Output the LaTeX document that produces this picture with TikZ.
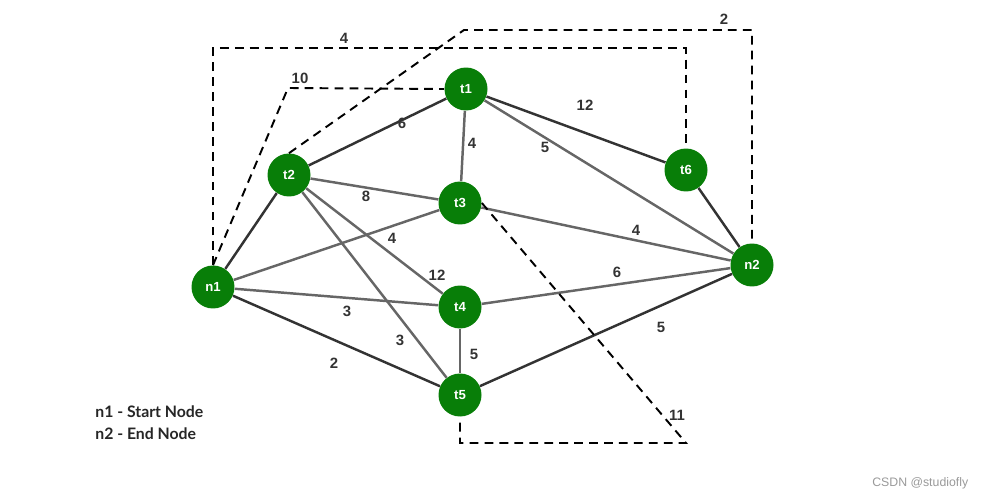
\documentclass[tikz,border=0pt]{standalone}
\usepackage{fontspec}
\setmainfont{Liberation Sans}
\newfontfamily\legendfont{Lato}
\definecolor{nodegreen}{RGB}{8,126,8}
\definecolor{darkedge}{RGB}{51,51,51}
\definecolor{lightedge}{RGB}{102,102,102}

\begin{document}
\begin{tikzpicture}[x=0.02cm,y=-0.02cm,
    vertex/.style={circle,fill=nodegreen,minimum size=0.86cm,inner sep=0pt,
        text=white,font=\bfseries\fontsize{7.5}{9}\selectfont},
    heavy/.style={draw=darkedge,line width=1.4pt},
    light/.style={draw=lightedge,line width=1.4pt},
    cut/.style={draw=black,line width=1.1pt,dash pattern=on 5pt off 3.5pt},
    wlabel/.style={text=darkedge,font=\bfseries\fontsize{8.5}{10}\selectfont,inner sep=0pt}]

\useasboundingbox (0,0) rectangle (1000,500);

% nodes
\node[vertex] (n1) at (213,287) {n1};
\node[vertex] (t2) at (289,175) {t2};
\node[vertex] (t1) at (466,89) {t1};
\node[vertex] (t3) at (460,203) {t3};
\node[vertex] (t6) at (686,170) {t6};
\node[vertex] (n2) at (752,265) {n2};
\node[vertex] (t4) at (460,307) {t4};
\node[vertex] (t5) at (460,395) {t5};

% dashed corners
\coordinate (c4a) at (213,48);
\coordinate (c4b) at (686,48);
\coordinate (c10) at (288,88);
\coordinate (c2a) at (464,30);
\coordinate (c2b) at (752,30);
\coordinate (c11a) at (686,443);
\coordinate (c11b) at (460,443);

% solid edges
\draw[heavy] (n1) -- (t2);
\draw[heavy] (t2) -- (t1);
\draw[heavy] (t1) -- (t6);
\draw[heavy] (t6) -- (n2);
\draw[heavy] (n1) -- (t5);
\draw[heavy] (t5) -- (n2);
\draw[light] (t1) -- (t3);
\draw[light] (t1) -- (n2);
\draw[light] (t2) -- (t3);
\draw[light] (t2) -- (t4);
\draw[light] (t2) -- (t5);
\draw[light] (n1) -- (t3);
\draw[light] (n1) -- (t4);
\draw[light] (t3) -- (n2);
\draw[light] (t4) -- (n2);
\draw[light] (t4) -- (t5);

% dashed edges
\draw[cut] (n1.north) -- (c4a) -- (c4b) -- (t6.north);
\draw[cut] (n1.north) -- (c10) -- (t1.west);
\draw[cut] (t2.north) -- (c2a) -- (c2b) -- (n2.north);
\draw[cut] (t3.east) -- (c11a) -- (c11b) -- (t5.south);

% weights
\node[wlabel] (w-n1t6) at (344,38) {4};
\node[wlabel] (w-n1t1) at (300,78) {10};
\node[wlabel] (w-t2n2) at (724,19) {2};
\node[wlabel] (w-t3t5) at (677,415) {11};
\node[wlabel] (w-t2t1) at (402,123) {6};
\node[wlabel] (w-t1t6) at (585,105) {12};
\node[wlabel] (w-t1t3) at (472,143) {4};
\node[wlabel] (w-t1n2) at (545,147) {5};
\node[wlabel] (w-t2t3) at (366,196) {8};
\node[wlabel] (w-n1t3) at (392,238) {4};
\node[wlabel] (w-t3n2) at (636,230) {4};
\node[wlabel] (w-t2t4) at (437,275) {12};
\node[wlabel] (w-t4n2) at (617,272) {6};
\node[wlabel] (w-n1t4) at (347,311) {3};
\node[wlabel] (w-t2t5) at (400,340) {3};
\node[wlabel] (w-t4t5) at (474,354) {5};
\node[wlabel] (w-n1t5) at (334,363) {2};
\node[wlabel] (w-t5n2) at (661,327) {5};

% legend
\node[anchor=west,inner sep=0pt,text=black!85,font=\legendfont\bfseries\fontsize{9}{11}\selectfont] (start) at (95,412) {n1 - Start Node};
\node[anchor=west,inner sep=0pt,text=black!85,font=\legendfont\bfseries\fontsize{9}{11}\selectfont] (end) at (95,434) {n2 - End Node};

\node[anchor=west,inner sep=0pt,text=black!40,font=\fontsize{7}{8}\selectfont] (mark) at (872,483) {CSDN @studiofly};

\end{tikzpicture}
\end{document}
